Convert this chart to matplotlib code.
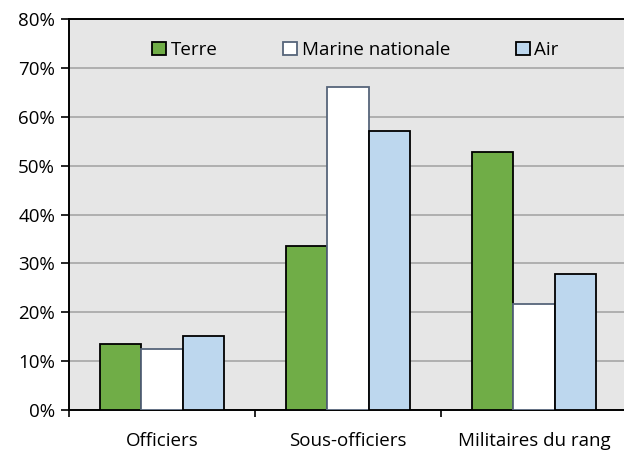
import numpy as np
import matplotlib.pyplot as plt
from matplotlib.ticker import PercentFormatter

categories = ['Officiers', 'Sous-officiers', 'Militaires du rang']
series = ['Terre', 'Marine nationale', 'Air']
terre = [13.6, 33.5, 52.7]
marine = [12.5, 66.1, 21.6]
air = [15.2, 57.1, 27.8]

plt.rcParams['font.family'] = ['Open Sans', 'DejaVu Sans']

fig = plt.figure(figsize=(6.24, 4.5), dpi=100)
ax = fig.add_axes([69/624, 40/450, 558/624, 391/450])
ax.set_facecolor('#e6e6e6')

x = np.arange(len(categories))
w = 0.223
colors = ['#70ad47', '#ffffff', '#bdd7ee']
edges = ['black', '#56657a', 'black']
for i, (vals, name) in enumerate(zip([terre, marine, air], series)):
	ax.bar(x + (i - 1) * w, vals, w, color=colors[i], edgecolor=edges[i],
	       linewidth=1.3, label=name, zorder=3)

ax.set_ylim(0, 80)
ax.set_xlim(-0.5, 2.5)
ax.set_yticks(np.arange(0, 81, 10))
ax.yaxis.set_major_formatter(PercentFormatter(decimals=0))
ax.yaxis.grid(True, color='#a0a0a0', linewidth=1.1, zorder=1)

ax.set_xticks(x)
ax.set_xticklabels(categories)
ax.set_xticks([-0.5, 0.5, 1.5, 2.5], minor=True)
ax.tick_params(axis='x', which='major', length=0, pad=16, labelsize=13.5)
ax.tick_params(axis='x', which='minor', length=5, width=1.2, direction='out')
ax.tick_params(axis='y', length=6, width=1.2, labelsize=13.5, pad=4)

for s in ['left', 'bottom', 'top']:
	ax.spines[s].set_linewidth(1.4)
	ax.spines[s].set_color('black')
ax.spines['right'].set_visible(False)

ax.legend(loc='upper center', bbox_to_anchor=(0.513, 0.987), ncol=3, frameon=False,
          fontsize=13.5, handlelength=0.75, handleheight=0.75, handletextpad=0.25,
          columnspacing=3.5)

fig.savefig('out.png', dpi=100)
